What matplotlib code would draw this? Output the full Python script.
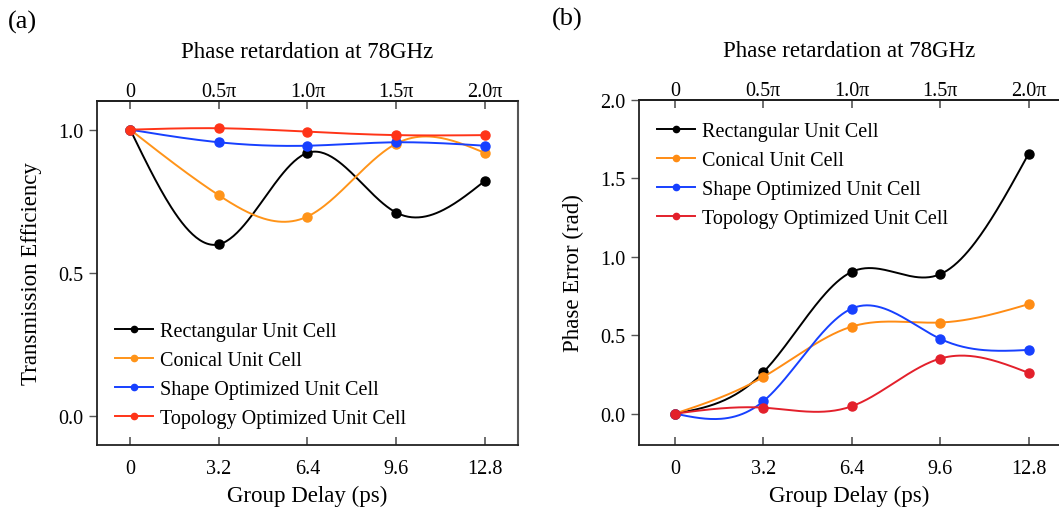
import numpy as np
import matplotlib
matplotlib.use("Agg")
import matplotlib.pyplot as plt

plt.rcParams["font.family"] = ["Liberation Serif", "DejaVu Serif"]
plt.rcParams["mathtext.fontset"] = "stix"

delay = [0, 3.2, 6.4, 9.6, 12.8]
delay_labels = ["0", "3.2", "6.4", "9.6", "12.8"]
phase_labels = ["0", "0.5\u03c0", "1.0\u03c0", "1.5\u03c0", "2.0\u03c0"]
names = ["Rectangular Unit Cell", "Conical Unit Cell",
         "Shape Optimized Unit Cell", "Topology Optimized Unit Cell"]

eff_rect = [1.0, 0.600, 0.919, 0.711, 0.821]
eff_con = [1.0, 0.771, 0.697, 0.951, 0.919]
eff_shape = [1.0, 0.956, 0.944, 0.956, 0.944]
eff_topo = [1.0, 1.005, 0.993, 0.981, 0.981]

err_rect = [0.0, 0.264, 0.904, 0.889, 1.657]
err_con = [0.0, 0.234, 0.555, 0.581, 0.698]
err_shape = [0.0, 0.079, 0.670, 0.477, 0.406]
err_topo = [0.0, 0.038, 0.047, 0.351, 0.260]

colors_a = ["black", "#ff9419", "#1740ff", "#ff3418"]
colors_b = ["black", "#ff8c14", "#1740ff", "#e3202b"]


def spline(x, y, num=200):
    # natural cubic spline, only used to draw the smooth connecting line
    x = np.asarray(x, float)
    y = np.asarray(y, float)
    n = len(x)
    h = np.diff(x)
    A = np.zeros((n, n))
    b = np.zeros(n)
    A[0, 0] = 1
    A[-1, -1] = 1
    for i in range(1, n - 1):
        A[i, i - 1] = h[i - 1]
        A[i, i] = 2 * (h[i - 1] + h[i])
        A[i, i + 1] = h[i]
        b[i] = 6 * ((y[i + 1] - y[i]) / h[i] - (y[i] - y[i - 1]) / h[i - 1])
    M = np.linalg.solve(A, b)
    xs = np.linspace(x[0], x[-1], num)
    k = np.clip(np.searchsorted(x, xs) - 1, 0, n - 2)
    t0 = x[k + 1] - xs
    t1 = xs - x[k]
    hk = h[k]
    ys = (M[k] * t0 ** 3 / (6 * hk) + M[k + 1] * t1 ** 3 / (6 * hk)
          + (y[k] / hk - M[k] * hk / 6) * t0
          + (y[k + 1] / hk - M[k + 1] * hk / 6) * t1)
    return xs, ys


fig = plt.figure(figsize=(10.59, 5.10), dpi=100)
ax1 = fig.add_axes([0.0916, 0.1255, 0.3975, 0.6745])
ax2 = fig.add_axes([0.6034, 0.1255, 0.3966, 0.6765])


def draw(ax, series, colors, ylim, yticks):
    for vals, c, name in zip(series, colors, names):
        xs, ys = spline(delay, vals)
        ax.plot(xs, ys, color=c, lw=1.4)
        ax.plot(delay, vals, "o", color=c, ms=6.5)
        ax.plot([], [], "-o", color=c, lw=1.4, ms=4.5, label=name)
    ax.set_xlim(-1.2, 14)
    ax.set_ylim(*ylim)
    ax.set_xticks(delay)
    ax.set_xticklabels(delay_labels)
    ax.set_yticks(yticks)
    ax.set_yticklabels([f"{v:.1f}" for v in yticks])
    ax.tick_params(axis="x", direction="in", length=6, width=1.2,
                   color="#555555", labelsize=14.5, pad=10)
    ax.tick_params(axis="y", direction="out", length=6, width=1,
                   color="#555555", labelsize=14.5)
    ax.set_xlabel("Group Delay (ps)", fontsize=16.5, labelpad=5)
    for s in ["left", "bottom", "top"]:
        ax.spines[s].set_linewidth(1.3)
        ax.spines[s].set_color("#222222")
    ax.spines["right"].set_color("#555555")
    ax.spines["right"].set_linewidth(1.5)

    top = ax.secondary_xaxis("top")
    top.set_xticks(delay)
    top.set_xticklabels(phase_labels)
    top.tick_params(direction="in", length=6, width=1.2, color="#555555",
                    labelsize=14.5, pad=0)
    top.spines["top"].set_linewidth(1.3)
    top.set_xlabel("Phase retardation at 78GHz", fontsize=16.5, labelpad=18)


draw(ax1, [eff_rect, eff_con, eff_shape, eff_topo], colors_a,
     (-0.1, 1.1), [0.0, 0.5, 1.0])
ax1.set_ylabel("Transmission Efficiency", fontsize=16.5, labelpad=12)
ax1.legend(loc="lower left", bbox_to_anchor=(0.0, -0.004), frameon=False,
           fontsize=14.5, handlelength=1.9, handletextpad=0.35,
           labelspacing=0.5, borderaxespad=0.5)

draw(ax2, [err_rect, err_con, err_shape, err_topo], colors_b,
     (-0.2, 2.0), [0.0, 0.5, 1.0, 1.5, 2.0])
ax2.spines["right"].set_visible(False)
ax2.set_xlim(-1.3, 13.9)
ax2.set_ylabel("Phase Error (rad)", fontsize=16.5, labelpad=12)
ax2.legend(loc="upper left", bbox_to_anchor=(0.0, 0.99), frameon=False,
           fontsize=14.5, handlelength=1.9, handletextpad=0.35,
           labelspacing=0.5, borderaxespad=0.5)

fig.text(0.007, 0.955, "(a)", fontsize=19, va="center", ha="left")
fig.text(0.521, 0.962, "(b)", fontsize=19, va="center", ha="left")

fig.savefig("out.png", dpi=100)
